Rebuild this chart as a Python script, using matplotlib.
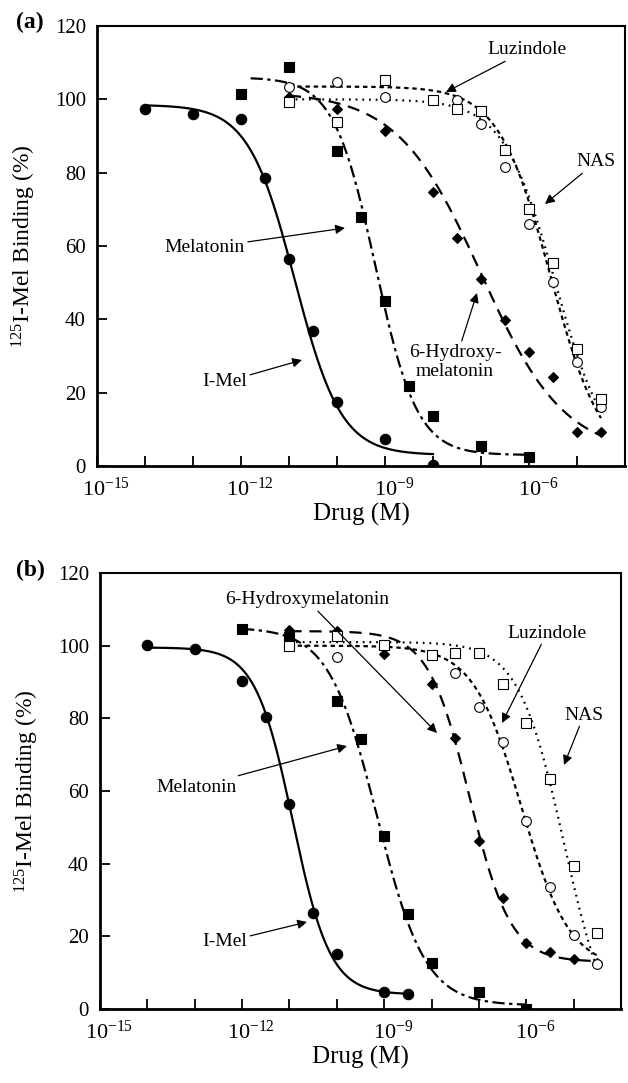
import numpy as np
import matplotlib
matplotlib.use("Agg")
import matplotlib.pyplot as plt
from matplotlib.transforms import ScaledTranslation

plt.rcParams['font.family'] = ['Liberation Serif', 'DejaVu Serif']
plt.rcParams['mathtext.fontset'] = 'custom'
plt.rcParams['mathtext.rm'] = 'Liberation Serif'
plt.rcParams['mathtext.it'] = 'Liberation Serif:italic'
plt.rcParams['mathtext.bf'] = 'Liberation Serif:bold'

# ---------------- Data (log10 molar concentration, % binding) ----------------
# Panel (a)
a_imel_x = [-14, -13, -12, -11.5, -11, -10.5, -10, -9, -8]
a_imel_y = [97.5, 96.0, 94.6, 78.6, 56.4, 36.8, 17.5, 7.3, 0.3]
a_mel_x = [-12, -11, -10, -9.5, -9, -8.5, -8, -7, -6]
a_mel_y = [101.4, 108.9, 86.0, 68.0, 45.1, 21.8, 13.7, 5.4, 2.4]
a_hyd_x = [-11, -10, -9, -8, -7.5, -7, -6.5, -6, -5.5, -5, -4.5]
a_hyd_y = [100.7, 97.5, 91.5, 74.8, 62.1, 50.9, 39.8, 31.2, 24.4, 9.2, 9.2]
a_luz_x = [-11, -10, -9, -8, -7.5, -7, -6.5, -6, -5.5, -5, -4.5]
a_luz_y = [103.3, 104.6, 100.7, 99.8, 99.8, 93.4, 81.6, 66.0, 50.3, 28.4, 16.2]
a_nas_x = [-11, -10, -9, -8, -7.5, -7, -6.5, -6, -5.5, -5, -4.5]
a_nas_y = [99.2, 93.9, 105.3, 99.8, 97.3, 96.9, 86.2, 70.0, 55.3, 31.8, 18.2]

# Panel (b)
b_imel_x = [-14, -13, -12, -11.5, -11, -10.5, -10, -9, -8.5]
b_imel_y = [100.2, 99.0, 90.4, 80.5, 56.4, 26.3, 15.1, 4.8, 4.0]
b_mel_x = [-12, -11, -10, -9.5, -9, -8.5, -8, -7, -6]
b_mel_y = [104.6, 102.5, 84.9, 74.2, 47.6, 26.1, 12.7, 4.8, 0.0]
b_hyd_x = [-11, -10, -9, -8, -7.5, -7, -6.5, -6, -5.5, -5, -4.5]
b_hyd_y = [104.3, 103.9, 97.7, 89.5, 74.5, 46.3, 30.5, 18.1, 15.6, 13.7, 12.7]
b_luz_x = [-11, -10, -9, -8, -7.5, -7, -6.5, -6, -5.5, -5, -4.5]
b_luz_y = [100.0, 97.0, 100.2, 97.4, 92.6, 83.2, 73.5, 51.8, 33.7, 20.4, 12.4]
b_nas_x = [-11, -10, -9, -8, -7.5, -7, -6.5, -6, -5.5, -5, -4.5]
b_nas_y = [100.0, 102.7, 100.2, 97.4, 97.9, 97.9, 89.5, 78.8, 63.2, 39.4, 21.0]

# Fitted sigmoid parameters: top, bottom, logIC50, hill, x-start, x-end
a_fits = {
    'imel': (98.5, 3.0, -10.88, 0.9, -14, -8),
    'mel': (106.0, 3.0, -9.2, 1.0, -11.8, -6),
    'hyd': (102.0, 3.0, -7.0, 0.5, -11, -4.5),
    'luz': (103.5, 0.0, -5.55, 0.8, -11, -4.5),
    'nas': (100.0, 0.0, -5.45, 0.8, -11, -4.5),
}
b_fits = {
    'imel': (99.5, 4.0, -10.93, 1.1, -14, -8.5),
    'mel': (105.0, 1.0, -9.15, 0.85, -12, -6),
    'hyd': (104.0, 13.0, -7.2, 1.0, -11, -4.5),
    'luz': (100.0, 11.0, -6.1, 0.85, -11, -4.5),
    'nas': (101.0, -10.0, -5.2, 0.9, -11, -4.5),
}

y_ticks = [0, 20, 40, 60, 80, 100, 120]
x_label_exps = [-15, -12, -9, -6]

styles = {
    'imel': dict(ls='-', marker='o', mfc='black', ms=7.5, dashes=None),
    'mel': dict(ls='--', marker='s', mfc='black', ms=7.5, dashes=(5.5, 2, 1.5, 2)),
    'hyd': dict(ls='--', marker='D', mfc='black', ms=5.5, dashes=(5.5, 3.5)),
    'luz': dict(ls='--', marker='o', mfc='white', ms=7, dashes=(2, 1.7)),
    'nas': dict(ls='--', marker='s', mfc='white', ms=7, dashes=(0.8, 2.2)),
}


def logistic(x, top, bot, ic, h):
    return bot + (top - bot) / (1 + 10 ** (h * (x - ic)))


def draw(ax, data, fits, annotations, label_pos):
    for key, (xs, ys) in data.items():
        st = styles[key]
        top, bot, ic, h, x0, x1 = fits[key]
        xx = np.linspace(x0, x1, 300)
        yy = logistic(xx, top, bot, ic, h)
        line, = ax.plot(10 ** xx, yy, color='black', lw=1.6, ls=st['ls'], zorder=2)
        if st['dashes'] is not None:
            line.set_dashes(st['dashes'])
        ax.plot(10 ** np.array(xs), ys, ls='none', marker=st['marker'], ms=st['ms'],
                mfc=st['mfc'], mec='black', mew=0.8, zorder=3)
    ax.set_xscale('log')
    ax.set_xlim(1e-15, 1e-4)
    ax.set_ylim(0, 120)
    ax.set_yticks(y_ticks)
    ax.set_yticklabels([str(t) for t in y_ticks])
    ax.set_xticks([10.0 ** e for e in range(-15, -3)])
    ax.set_xticklabels(['$10^{%d}$' % e if e in x_label_exps else '' for e in range(-15, -3)])
    ax.xaxis.set_minor_locator(matplotlib.ticker.NullLocator())
    ax.tick_params(axis='x', direction='in', length=7, width=1.3, labelsize=16, pad=8)
    ax.tick_params(axis='y', direction='in', length=7, width=1.3, labelsize=15, pad=8)
    for lab in ax.get_xticklabels():
        lab.set_transform(lab.get_transform() + ScaledTranslation(0.09, 0, ax.figure.dpi_scale_trans))
    for s in ax.spines.values():
        s.set_linewidth(1.5)
    ax.spines['left'].set_linewidth(2)
    ax.spines['bottom'].set_linewidth(2)
    ax.set_xlabel('Drug (M)', fontsize=18, labelpad=2)
    ax.set_ylabel('$^{125}$I-Mel Binding (%)', fontsize=17, labelpad=12)
    for text, xy_text, xy_head, kw in annotations:
        ax.annotate(text, xy=xy_head, xytext=xy_text, xycoords='figure pixels',
                    textcoords='figure pixels', fontsize=14, ha='center', va='center',
                    arrowprops=dict(arrowstyle='-|>', color='black', lw=0.9,
                                    mutation_scale=14, shrinkA=0, shrinkB=0), **kw)
    ax.figure.text(label_pos[0], label_pos[1], label_pos[2], fontsize=17,
                   fontweight='bold', ha='center', va='center',
                   transform=ax.figure.transFigure)


W, H = 628, 1083
fig = plt.figure(figsize=(W / 100, H / 100), dpi=100)


def fp(x, y):
    # convert image pixel coords (top-left origin) to figure pixels
    return (x, H - y)


ax1 = fig.add_axes([97 / W, 1 - 466 / H, (625 - 97) / W, (466 - 26) / H])
ax2 = fig.add_axes([100 / W, 1 - 1009 / H, (621 - 100) / W, (1009 - 573) / H])

data_a = {'imel': (a_imel_x, a_imel_y), 'mel': (a_mel_x, a_mel_y), 'hyd': (a_hyd_x, a_hyd_y),
          'luz': (a_luz_x, a_luz_y), 'nas': (a_nas_x, a_nas_y)}
data_b = {'imel': (b_imel_x, b_imel_y), 'mel': (b_mel_x, b_mel_y), 'hyd': (b_hyd_x, b_hyd_y),
          'luz': (b_luz_x, b_luz_y), 'nas': (b_nas_x, b_nas_y)}

ann_a = [
    ('Luzindole', fp(527, 50), fp(446, 92), {}),
    ('NAS', fp(596, 162), fp(545, 204), {}),
    ('Melatonin', fp(205, 248), fp(345, 228), {}),
    ('I-Mel', fp(225, 382), fp(302, 360), {}),
    ('6-Hydroxy-\nmelatonin', fp(455, 362), fp(477, 293), {}),
]
ann_b = [
    ('6-Hydroxymelatonin', fp(307, 600), fp(437, 733), {}),
    ('Melatonin', fp(197, 787), fp(347, 746), {}),
    ('I-Mel', fp(225, 942), fp(307, 922), {}),
    ('Luzindole', fp(547, 633), fp(502, 723), {}),
    ('NAS', fp(584, 715), fp(564, 765), {}),
]

draw(ax1, data_a, a_fits, ann_a, (30 / W, 1 - 22 / H, '(a)'))
draw(ax2, data_b, b_fits, ann_b, (30 / W, 1 - 570 / H, '(b)'))

fig.savefig('out.png', dpi=100)
